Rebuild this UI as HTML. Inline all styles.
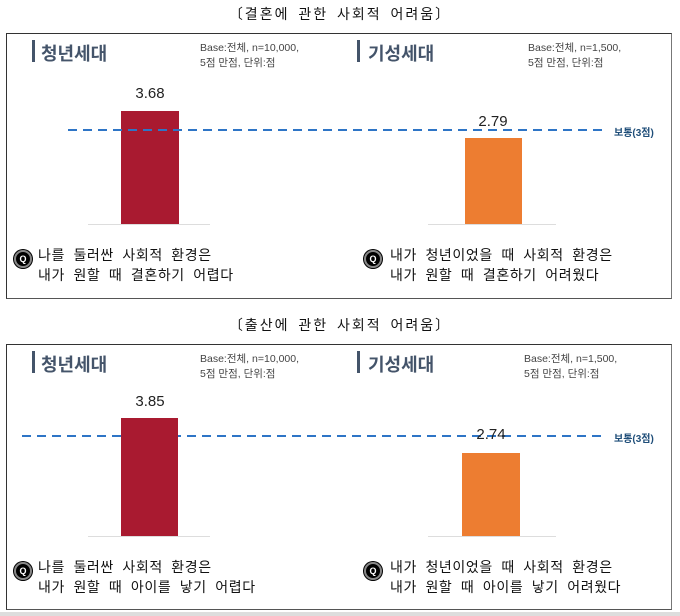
<!DOCTYPE html>
<html><head><meta charset="utf-8"><style>
body{margin:0;width:680px;height:616px;background:#fff;position:relative;overflow:hidden;font-family:"Liberation Sans","Noto Sans CJK KR",sans-serif;}
.a{position:absolute;}
.box{position:absolute;left:6px;width:666px;border:1.5px solid #333;border-right-color:#777;border-bottom-color:#555;box-sizing:border-box;}
.cap{position:absolute;width:680px;text-align:center;font-size:14px;color:#111;letter-spacing:2px;word-spacing:3px;}
.mk{position:absolute;width:3px;height:22px;background:#44546a;}
.ttl{position:absolute;font-size:18px;font-weight:600;color:#44546a;}
.base{position:absolute;font-size:10.5px;color:#444;line-height:15px;}
.val{position:absolute;font-size:15px;color:#222;width:60px;text-align:center;}
.lbl{position:absolute;font-size:10px;color:#1f4e79;font-weight:bold;}
.q{position:absolute;width:14px;height:14px;border-radius:50%;background:#000;border:2px solid #888;box-shadow:0 0 0 1px #000;color:#fff;font-size:9px;font-weight:bold;text-align:center;line-height:14px;}
.qt{position:absolute;font-size:14px;color:#111;line-height:20px;letter-spacing:0.6px;word-spacing:4px;white-space:nowrap;}
.bl{position:absolute;height:1px;background:#ddd;}
svg{position:absolute;left:0;}
</style></head><body>
<div class="cap" style="top:4px">〔결혼에 관한 사회적 어려움〕</div>
<div class="box" style="top:33px;height:266px"></div>
<div class="mk" style="left:32px;top:40px"></div><div class="ttl" style="left:41px;top:40px">청년세대</div>
<div class="base" style="left:200px;top:41px">Base:전체, n=10,000,<br>5점 만점, 단위:점</div>
<div class="mk" style="left:357px;top:40px"></div><div class="ttl" style="left:368px;top:40px">기성세대</div>
<div class="base" style="left:528px;top:41px">Base:전체, n=1,500,<br>5점 만점, 단위:점</div>
<div class="bl" style="left:88px;width:122px;top:224px"></div>
<div class="bl" style="left:428px;width:128px;top:224px"></div>
<div class="a" style="left:121px;top:111px;width:58px;height:113px;background:#a91a30"></div>
<div class="a" style="left:465px;top:138px;width:57px;height:86px;background:#ed7d31"></div>
<svg width="680" height="616" style="top:0"><line x1="68" y1="130" x2="606" y2="130" stroke="#2e75c6" stroke-width="2" stroke-dasharray="9,6"/><line x1="22" y1="436" x2="606" y2="436" stroke="#2e75c6" stroke-width="2" stroke-dasharray="9,6"/></svg>
<div class="lbl" style="left:614px;top:124px">보통(3점)</div>
<div class="val" style="left:120px;top:85px">3.68</div>
<div class="val" style="left:463px;top:113px">2.79</div>
<div class="q" style="left:14px;top:250px">Q</div>
<div class="qt" style="left:38px;top:245px">나를 둘러싼 사회적 환경은<br>내가 원할 때 결혼하기 어렵다</div>
<div class="q" style="left:364px;top:250px">Q</div>
<div class="qt" style="left:390px;top:245px">내가 청년이었을 때 사회적 환경은<br>내가 원할 때 결혼하기 어려웠다</div>

<div class="cap" style="top:315px">〔출산에 관한 사회적 어려움〕</div>
<div class="box" style="top:344px;height:266px"></div>
<div class="mk" style="left:32px;top:351px"></div><div class="ttl" style="left:41px;top:351px">청년세대</div>
<div class="base" style="left:200px;top:352px">Base:전체, n=10,000,<br>5점 만점, 단위:점</div>
<div class="mk" style="left:357px;top:351px"></div><div class="ttl" style="left:368px;top:351px">기성세대</div>
<div class="base" style="left:524px;top:352px">Base:전체, n=1,500,<br>5점 만점, 단위:점</div>
<div class="bl" style="left:88px;width:122px;top:536px"></div>
<div class="bl" style="left:428px;width:128px;top:536px"></div>
<div class="a" style="left:121px;top:418px;width:57px;height:118px;background:#a91a30"></div>
<div class="a" style="left:462px;top:453px;width:58px;height:83px;background:#ed7d31"></div>
<div class="lbl" style="left:614px;top:430px">보통(3점)</div>
<div class="val" style="left:120px;top:393px">3.85</div>
<div class="val" style="left:461px;top:426px">2.74</div>
<div class="q" style="left:14px;top:562px">Q</div>
<div class="qt" style="left:38px;top:557px">나를 둘러싼 사회적 환경은<br>내가 원할 때 아이를 낳기 어렵다</div>
<div class="q" style="left:364px;top:562px">Q</div>
<div class="qt" style="left:390px;top:557px">내가 청년이었을 때 사회적 환경은<br>내가 원할 때 아이를 낳기 어려웠다</div>
<div class="a" style="left:0;top:612px;width:680px;height:4px;background:#ddd"></div>
</body></html>
